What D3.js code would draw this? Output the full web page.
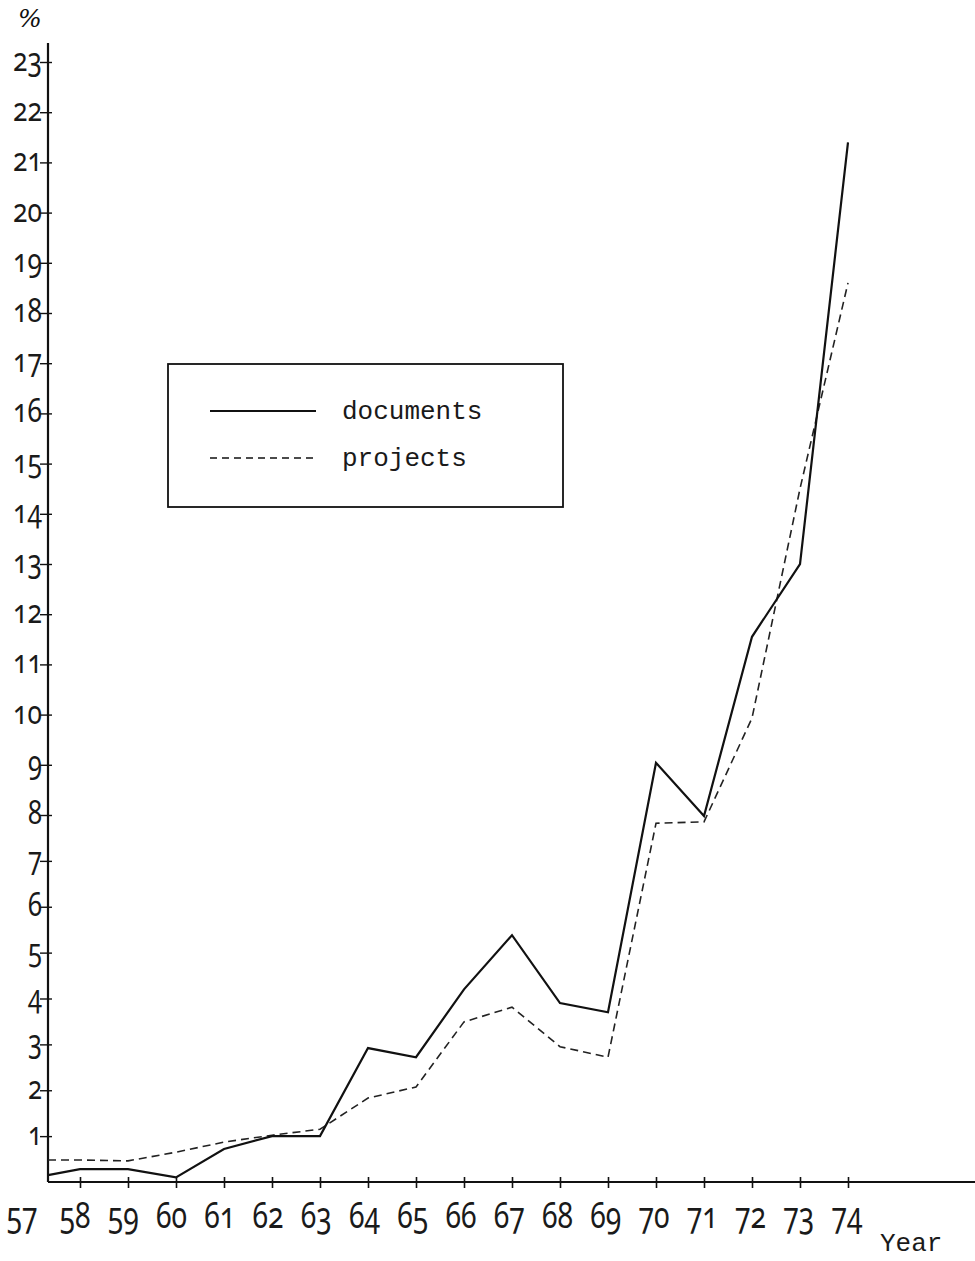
<!DOCTYPE html>
<html><head><meta charset="utf-8">
<script src="https://cdn.jsdelivr.net/npm/d3@7"></script>
<style>
body{margin:0;background:#fff}
.num{font-family:"Noto Sans",sans-serif;font-variant-numeric:oldstyle-nums;font-feature-settings:"onum" 1;fill:#1a1a1a}
.tw{font-family:"Liberation Mono",monospace;fill:#1a1a1a}
</style>
</head><body><svg id="c" width="975" height="1261"></svg>
<script>
const years = [57,58,59,60,61,62,63,64,65,66,67,68,69,70,71,72,73,74];
const documents = [0.15,0.28,0.28,0.1,0.72,1.0,1.0,2.92,2.72,4.2,5.38,3.9,3.7,9.04,7.98,11.55,13.0,21.4];
const projects = [0.48,0.48,0.46,0.65,0.87,1.02,1.15,1.83,2.07,3.49,3.81,2.95,2.72,7.82,7.85,9.93,14.5,18.6];
const yTicks = d3.range(1,24);
const xTickLabels = years.map(d => String(d));
const legendLabels = ["documents","projects"];
const yUnit = "%";
const xTitle = "Year";

const svg = d3.select("#c");
const ink = "#111";

// hand-drawn scales (slightly irregular spacing in original)
const x = d3.scaleLinear().domain([57,58,74]).range([48,80,848]);
const xLab = d3.scaleLinear().domain([57,58,74]).range([22,75,847]);
const y = d3.scaleLinear().domain([0,8,23]).range([1182,815,62]);

const ax = x(57), ay = y(0);

// axes lines
svg.append("line").attr("x1",ax).attr("x2",ax).attr("y1",y(23)-19).attr("y2",ay)
  .attr("stroke",ink).attr("stroke-width",2.2);
svg.append("line").attr("x1",ax).attr("x2",975).attr("y1",ay).attr("y2",ay)
  .attr("stroke",ink).attr("stroke-width",2.2);

// y axis ticks via d3 axis
const yAxis = d3.axisLeft(y).tickValues(yTicks).tickSizeInner(8).tickSizeOuter(0).tickFormat("");
const gy = svg.append("g").attr("transform",`translate(${ax},0)`).call(yAxis);
gy.select(".domain").remove();
gy.selectAll(".tick line").attr("x1",4).attr("stroke",ink).attr("stroke-width",1.4);

svg.append("g").selectAll("text").data(yTicks).join("text")
  .attr("class","num")
  .attr("x",ax-6).attr("y",d=>y(d)+9)
  .attr("text-anchor","end").attr("font-size",33)
  .attr("textLength",d=>String(d).length>1?29:14).attr("lengthAdjust","spacingAndGlyphs")
  .text(d=>d);

// x axis ticks
const xAxis = d3.axisBottom(x).tickValues(years.slice(1)).tickSizeInner(6).tickSizeOuter(0).tickFormat("");
const gx = svg.append("g").attr("transform",`translate(0,${ay})`).call(xAxis);
gx.select(".domain").remove();
gx.selectAll(".tick line").attr("y1",-5).attr("stroke",ink).attr("stroke-width",1.6);

svg.append("g").selectAll("text").data(years).join("text")
  .attr("class","num")
  .attr("x",d=>xLab(d)).attr("y",ay+46)
  .attr("text-anchor","middle").attr("font-size",36)
  .attr("textLength",31).attr("lengthAdjust","spacingAndGlyphs")
  .text((d,i)=>xTickLabels[i]);

// titles
svg.append("text").attr("x",30).attr("y",27).attr("text-anchor","middle")
  .attr("font-family","DejaVu Serif").attr("font-style","italic").attr("font-size",25).attr("fill",ink).text(yUnit);
svg.append("text").attr("class","tw").attr("x",880).attr("y",1251).attr("font-size",26).text(xTitle);

// lines
const line = d3.line().x((d,i)=>x(years[i])).y(d=>y(d));
svg.append("path").datum(projects).attr("d",line).attr("fill","none")
  .attr("stroke","#222").attr("stroke-width",1.6).attr("stroke-dasharray","8,5");
svg.append("path").datum(documents).attr("d",line).attr("fill","none")
  .attr("stroke",ink).attr("stroke-width",2.2).attr("stroke-linejoin","miter");

// legend
const lg = svg.append("g");
lg.append("rect").attr("x",168).attr("y",364).attr("width",395).attr("height",143)
  .attr("fill","none").attr("stroke",ink).attr("stroke-width",1.8);
const styles = [{w:2,da:null},{w:1.5,da:"7,5"}];
legendLabels.forEach((t,i)=>{
  const yy = 411 + i*47;
  lg.append("line").attr("x1",210).attr("x2",316).attr("y1",yy).attr("y2",yy)
    .attr("stroke",ink).attr("stroke-width",styles[i].w).attr("stroke-dasharray",styles[i].da);
  lg.append("text").attr("class","tw").attr("x",342).attr("y",yy+8).attr("font-size",26).text(t);
});
</script></body></html>
